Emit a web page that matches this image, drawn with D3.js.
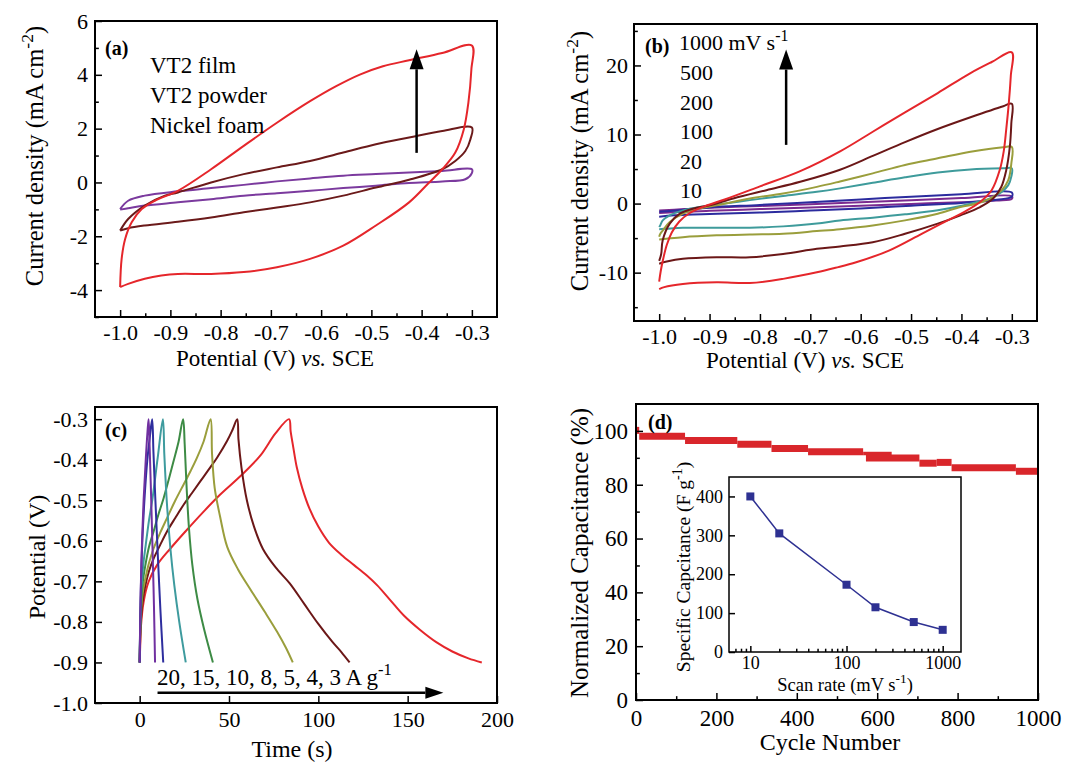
<!DOCTYPE html>
<html>
<head>
<meta charset="utf-8">
<script src="https://cdn.jsdelivr.net/npm/d3@7"></script>
<style>
  body { margin: 0; background: #fff; }
  text { font-family: "Liberation Serif", "Times New Roman", serif; fill: #000; }
</style>
</head>
<body>
<div id="chart"></div>
<script>
// ---------- données ----------

// (a) voltammétrie cyclique, trois électrodes : E (V) et j (mA cm-2), boucle fermée
const filmE = [-1.0,-0.997,-0.99,-0.977,-0.957,-0.931,-0.885,-0.819,-0.754,-0.688,-0.622,-0.57,-0.523,-0.477,-0.425,-0.359,-0.3,
               -0.301,-0.307,-0.316,-0.333,-0.359,-0.385,-0.425,-0.491,-0.556,-0.622,-0.688,-0.754,-0.819,-0.885,-0.918,-0.951,-0.984,-1.0];
const filmJ = [-3.89,-2.84,-2.10,-1.48,-0.99,-0.68,-0.31,0.49,1.36,2.22,3.02,3.58,4.01,4.32,4.54,4.81,5.09,
               4.20,2.96,1.98,1.11,0.49,0.0,-0.74,-1.60,-2.35,-2.84,-3.15,-3.33,-3.40,-3.40,-3.46,-3.58,-3.77,-3.89];
const powderE = [-1.0,-0.984,-0.951,-0.911,-0.885,-0.819,-0.754,-0.688,-0.622,-0.556,-0.491,-0.425,-0.359,-0.3,
                 -0.303,-0.313,-0.333,-0.359,-0.425,-0.491,-0.556,-0.622,-0.688,-0.754,-0.819,-0.885,-0.951,-0.984,-1.0];
const powderJ = [-1.79,-1.36,-0.86,-0.49,-0.37,0.0,0.31,0.56,0.80,1.11,1.42,1.67,1.91,2.04,
                 1.60,1.17,0.80,0.49,0.10,-0.19,-0.49,-0.74,-0.93,-1.11,-1.30,-1.46,-1.60,-1.70,-1.79];
const foamE = [-1.0,-0.984,-0.951,-0.885,-0.819,-0.754,-0.688,-0.622,-0.556,-0.491,-0.425,-0.359,-0.3,
               -0.3,-0.313,-0.359,-0.425,-0.491,-0.556,-0.622,-0.688,-0.754,-0.819,-0.885,-0.951,-0.984,-1.0];
const foamJ = [-0.99,-0.68,-0.49,-0.33,-0.21,-0.09,0.04,0.15,0.25,0.31,0.37,0.43,0.49,
               0.35,0.12,0.04,-0.02,-0.12,-0.21,-0.31,-0.40,-0.49,-0.62,-0.74,-0.86,-0.96,-1.01];
const legendA = ["VT2 film", "VT2 powder", "Nickel foam"];

// (b) CV du film à différentes vitesses de balayage
const scanLabels = ["1000", "500", "200", "100", "20", "10"];
const cv1000E = [-1.0,-0.997,-0.992,-0.985,-0.975,-0.96,-0.94,-0.91,-0.87,-0.8,-0.72,-0.64,-0.576,-0.512,-0.447,-0.382,-0.34,-0.3,
                 -0.302,-0.306,-0.311,-0.316,-0.324,-0.34,-0.363,-0.395,-0.434,-0.479,-0.544,-0.609,-0.65,-0.687,-0.754,-0.82,-0.886,-0.953,-0.99,-1.0];
const cv1000J = [-11.3,-9.8,-8.0,-6.0,-4.2,-2.6,-1.4,-0.4,0.6,2.5,4.7,7.6,10.4,13.2,16.0,18.9,20.5,21.9,
                 18.5,14.5,10.8,7.6,4.85,1.94,0.24,-1.22,-2.68,-4.37,-6.8,-8.5,-9.3,-9.95,-10.9,-11.5,-11.4,-11.65,-12.1,-12.4];
const cv500E = [-1.0,-0.996,-0.993,-0.979,-0.959,-0.933,-0.9,-0.853,-0.787,-0.72,-0.641,-0.576,-0.512,-0.447,-0.382,-0.317,-0.3,
                -0.301,-0.304,-0.311,-0.321,-0.337,-0.363,-0.402,-0.447,-0.512,-0.576,-0.641,-0.687,-0.754,-0.82,-0.886,-0.953,-0.985,-1.0];
const cv500J = [-8.3,-7.3,-5.3,-2.9,-1.46,-0.73,-0.25,0.73,1.94,3.15,4.9,6.9,8.9,10.8,12.5,14.1,14.45,
                11.6,8.2,4.85,2.4,0.73,-0.5,-1.7,-2.9,-4.37,-5.6,-6.2,-6.55,-7.3,-7.77,-7.77,-8.0,-8.4,-8.7];
const cv200E = [-1.0,-0.998,-0.993,-0.979,-0.953,-0.92,-0.886,-0.82,-0.754,-0.687,-0.641,-0.576,-0.512,-0.447,-0.382,-0.317,-0.3,
                -0.301,-0.307,-0.32,-0.343,-0.369,-0.402,-0.447,-0.512,-0.576,-0.641,-0.687,-0.754,-0.82,-0.886,-0.953,-0.986,-1.0];
const cv200J = [-4.8,-4.4,-3.9,-2.68,-1.46,-0.73,-0.25,0.73,1.46,2.42,3.2,4.37,5.6,6.55,7.5,8.15,8.2,
                5.8,3.4,1.94,0.73,0.0,-0.5,-1.46,-2.43,-3.16,-3.7,-3.98,-4.37,-4.47,-4.6,-4.86,-5.1,-5.2];
const cv100E = [-1.0,-0.998,-0.993,-0.979,-0.953,-0.92,-0.886,-0.82,-0.754,-0.687,-0.641,-0.576,-0.512,-0.447,-0.382,-0.317,-0.3,
                -0.301,-0.307,-0.32,-0.343,-0.369,-0.402,-0.447,-0.512,-0.576,-0.641,-0.687,-0.754,-0.82,-0.886,-0.953,-0.986,-1.0];
const cv100J = [-3.4,-3.16,-2.43,-1.7,-0.98,-0.5,-0.15,0.5,1.1,1.7,2.2,3.0,3.8,4.5,4.95,5.1,5.1,
                3.9,2.67,1.7,0.73,0.24,-0.35,-0.97,-1.56,-2.04,-2.45,-2.9,-3.3,-3.5,-3.5,-3.5,-3.64,-3.7];
const cv20E = [-1.0,-0.95,-0.9,-0.8,-0.7,-0.6,-0.5,-0.4,-0.3,-0.3,-0.33,-0.4,-0.5,-0.6,-0.7,-0.8,-0.9,-0.97,-1.0];
const cv20J = [-1.2,-0.9,-0.55,-0.2,0.2,0.6,1.0,1.35,1.6,1.0,0.55,0.1,-0.3,-0.7,-1.0,-1.3,-1.5,-1.7,-1.9];
const cv10E = [-1.0,-0.95,-0.9,-0.8,-0.7,-0.6,-0.5,-0.4,-0.3,-0.3,-0.33,-0.4,-0.5,-0.6,-0.7,-0.8,-0.9,-0.97,-1.0];
const cv10J = [-1.0,-0.8,-0.6,-0.35,-0.1,0.2,0.5,0.8,1.05,0.7,0.45,0.2,-0.05,-0.3,-0.55,-0.8,-1.05,-1.25,-1.35];

// (c) charge-décharge galvanostatique : temps (s) et potentiel (V)
const gcdLabel = "20, 15, 10, 8, 5, 4, 3 A g";
const g20T = [0,0.5,1.2,2.2,3.4,4.4,5.0,5.6,6.4,7.2,8.0,8.6];
const g20V = [-0.9,-0.74,-0.62,-0.5,-0.4,-0.33,-0.3,-0.37,-0.49,-0.62,-0.76,-0.9];
const g15T = [0,0.6,1.5,2.8,4.3,5.8,7.0,7.7,8.8,10.1,11.6,13.2];
const g15V = [-0.9,-0.73,-0.6,-0.49,-0.4,-0.34,-0.3,-0.38,-0.5,-0.63,-0.77,-0.9];
const g10T = [0,0.3,0.8,2.0,3.4,5.2,7.2,10.1,13.0,13.8,15.3,17.2,19.4,22.2,25.8];
const g10V = [-0.9,-0.8,-0.73,-0.66,-0.61,-0.55,-0.495,-0.395,-0.3,-0.387,-0.511,-0.619,-0.71,-0.801,-0.9];
const g8T = [0,0.3,0.75,1.8,3.2,5.2,7.8,10.5,13.4,16.2,19,21.8,24.3,25.2,26.3,27.6,29.5,32.3,36,41];
const g8V = [-0.9,-0.82,-0.76,-0.70,-0.66,-0.615,-0.577,-0.535,-0.495,-0.45,-0.403,-0.355,-0.3,-0.362,-0.47,-0.569,-0.66,-0.743,-0.817,-0.9];
const g5T = [0,0.3,0.75,1.8,3.2,5.2,7.8,11.5,15.3,20,24.6,28.5,32.1,35.8,39.7,40.5,42,45,49,55,62,70,77,82,85.7];
const g5V = [-0.9,-0.83,-0.776,-0.725,-0.693,-0.655,-0.619,-0.58,-0.544,-0.5,-0.461,-0.428,-0.395,-0.355,-0.3,-0.385,-0.47,-0.54,-0.615,-0.67,-0.72,-0.775,-0.825,-0.865,-0.9];
const g4T = [0,0.3,0.75,1.8,3.2,5.2,7.8,11.5,15.3,20,24.6,29.3,34,38.7,43.3,48.9,52,54.6,55.3,57,60,64,69,76,84,92,100,108,113,117.5];
const g4V = [-0.9,-0.84,-0.793,-0.745,-0.71,-0.675,-0.644,-0.61,-0.577,-0.543,-0.511,-0.482,-0.453,-0.424,-0.395,-0.354,-0.326,-0.3,-0.35,-0.42,-0.5,-0.565,-0.62,-0.665,-0.705,-0.755,-0.805,-0.85,-0.875,-0.9];
const g3T = [0,0.3,0.75,2.2,5,9.7,17.2,25.6,35.8,45.1,56.3,67.5,76,83.6,84.5,86,88,91,95,100,106,113,120,127,133,140,148,157,166,175,184,191.5];
const g3V = [-0.9,-0.86,-0.809,-0.751,-0.701,-0.66,-0.619,-0.577,-0.528,-0.486,-0.441,-0.39,-0.335,-0.3,-0.33,-0.37,-0.42,-0.47,-0.52,-0.565,-0.605,-0.635,-0.66,-0.685,-0.71,-0.745,-0.785,-0.82,-0.85,-0.873,-0.89,-0.9];

// (d) rétention de capacité : paliers (cycle début, cycle fin, %)
const cycStart = [0, 8, 122, 252, 337, 428, 565, 572, 705, 748, 785, 945];
const cycEnd   = [8, 122, 252, 337, 428, 565, 636, 705, 748, 785, 945, 1000];
const capNorm  = [100.2, 98.0, 96.4, 95.0, 93.5, 92.3, 91.6, 89.9, 88.0, 88.3, 86.3, 85.0];
// encart : capacité spécifique en fonction de la vitesse de balayage
const scanRate = [10, 20, 100, 200, 500, 1000];
const specCap  = [400, 305, 173, 115, 77, 57];

// ---------- dessin ----------
const width = 1069, height = 765;
const SERIF = '"Liberation Serif", "Times New Roman", serif';

const svg = d3.select("#chart").append("svg")
    .attr("width", width)
    .attr("height", height);
svg.append("rect").attr("width", width).attr("height", height).attr("fill", "#fff");

function styleAxis(sel, fs) {
    sel.attr("font-family", SERIF).attr("font-size", fs);
    sel.select(".domain").remove();
    sel.selectAll(".tick line").attr("stroke", "#000").attr("stroke-width", 1.5);
}

function addAxes(x, y, box, o) {
    const bottom = box.top + box.h;
    svg.append("g").attr("transform", `translate(0,${bottom})`)
        .call(d3.axisBottom(x).tickValues(o.xMajor).tickFormat(o.xFmt).tickSize(-o.tl).tickPadding(o.px))
        .call(styleAxis, o.fs);
    if (o.xMinor) svg.append("g").attr("transform", `translate(0,${bottom})`)
        .call(d3.axisBottom(x).tickValues(o.xMinor).tickFormat("").tickSize(-o.tl * 0.55))
        .call(styleAxis, o.fs);
    svg.append("g").attr("transform", `translate(${box.left},0)`)
        .call(d3.axisLeft(y).tickValues(o.yMajor).tickFormat(o.yFmt).tickSize(-o.tl).tickPadding(o.py))
        .call(styleAxis, o.fs);
    if (o.yMinor) svg.append("g").attr("transform", `translate(${box.left},0)`)
        .call(d3.axisLeft(y).tickValues(o.yMinor).tickFormat("").tickSize(-o.tl * 0.55))
        .call(styleAxis, o.fs);
    svg.append("rect")
        .attr("x", box.left).attr("y", box.top).attr("width", box.w).attr("height", box.h)
        .attr("fill", "none").attr("stroke", "#000").attr("stroke-width", o.sw);
}

function drawCurve(x, y, xs, ys, color, sw) {
    const line = d3.line()
        .x(d => x(d[0])).y(d => y(d[1]))
        .curve(d3.curveCatmullRom.alpha(0.5));
    svg.append("path")
        .attr("d", line(d3.zip(xs, ys)))
        .attr("fill", "none")
        .attr("stroke", color)
        .attr("stroke-width", sw)
        .attr("stroke-linejoin", "round");
}

function drawArrow(p0, p1, headLen, headW, sw) {
    const dx = p1[0] - p0[0], dy = p1[1] - p0[1], L = Math.hypot(dx, dy);
    const ux = dx / L, uy = dy / L;
    const bx = p1[0] - ux * headLen, by = p1[1] - uy * headLen;
    svg.append("line")
        .attr("x1", p0[0]).attr("y1", p0[1]).attr("x2", bx).attr("y2", by)
        .attr("stroke", "#000").attr("stroke-width", sw);
    svg.append("path")
        .attr("d", `M${p1[0]},${p1[1]}L${bx - uy * headW / 2},${by + ux * headW / 2}L${bx + uy * headW / 2},${by - ux * headW / 2}Z`)
        .attr("fill", "#000");
}

// texte avec exposant : parts = [[texte, exposant?, italique?], ...]
function richText(xp, yp, parts, fs, anchor, rotate) {
    const t = svg.append("text")
        .attr("transform", `translate(${xp},${yp})` + (rotate ? " rotate(-90)" : ""))
        .attr("text-anchor", anchor || "start")
        .attr("font-size", fs);
    let raised = false;
    parts.forEach(p => {
        const s = t.append("tspan").text(p[0]);
        if (p[1] && !raised) { s.attr("dy", -fs * 0.42).attr("font-size", fs * 0.72); raised = true; }
        else if (!p[1] && raised) { s.attr("dy", fs * 0.42); raised = false; }
        if (p[2]) s.attr("font-style", "italic");
    });
    return t;
}

function panelLetter(xp, yp, s) {
    svg.append("text").attr("x", xp).attr("y", yp)
        .attr("font-size", 20).attr("font-weight", "bold").text(s);
}

const fmt1 = d => d.toFixed(1);
const fmt0 = d => String(d);

// ---------- (a) ----------
const boxA = {left: 95, top: 21, w: 402, h: 296};
const xA = d3.scaleLinear().domain([-1.05, -0.25]).range([boxA.left, boxA.left + boxA.w]);
const yA = d3.scaleLinear().domain([-5, 6]).range([boxA.top + boxA.h, boxA.top]);
drawCurve(xA, yA, foamE, foamJ, "#7b3a9e", 2);
drawCurve(xA, yA, powderE, powderJ, "#6b1a1a", 2);
drawCurve(xA, yA, filmE, filmJ, "#e5262b", 2);
addAxes(xA, yA, boxA, {
    xMajor: d3.range(-1.0, -0.25, 0.1), xMinor: d3.range(-0.95, -0.3, 0.1), xFmt: fmt1,
    yMajor: [-4, -2, 0, 2, 4, 6], yMinor: [-5, -3, -1, 1, 3, 5], yFmt: fmt0,
    tl: 7, px: 7, py: 7, fs: 22, sw: 2
});
panelLetter(105, 55, "(a)");
legendA.forEach((s, i) => svg.append("text").attr("x", 150).attr("y", 73 + i * 30)
    .attr("font-size", 23).text(s));
drawArrow([xA(-0.41), yA(1.1)], [xA(-0.41), yA(4.95)], 20, 14, 2.5);
richText(275, 366, [["Potential (V) "], ["vs.", false, true], [" SCE"]], 23, "middle");
richText(43, 156, [["Current density (mA cm"], ["-2", true], [")"]], 24.5, "middle", true);

// ---------- (b) ----------
const boxB = {left: 634, top: 24, w: 403, h: 297};
const xB = d3.scaleLinear().domain([-1.05, -0.25]).range([boxB.left, boxB.left + boxB.w]);
const yB = d3.scaleLinear().domain([-17, 26]).range([boxB.top + boxB.h, boxB.top]);
drawCurve(xB, yB, cv10E, cv10J, "#7b2a8f", 2);
drawCurve(xB, yB, cv20E, cv20J, "#2b2b9e", 2);
drawCurve(xB, yB, cv100E, cv100J, "#3e9b9b", 2);
drawCurve(xB, yB, cv200E, cv200J, "#9a9e3c", 2);
drawCurve(xB, yB, cv500E, cv500J, "#6b1717", 2);
drawCurve(xB, yB, cv1000E, cv1000J, "#e5262b", 2);
addAxes(xB, yB, boxB, {
    xMajor: d3.range(-1.0, -0.25, 0.1), xMinor: d3.range(-0.95, -0.3, 0.1), xFmt: fmt1,
    yMajor: [-10, 0, 10, 20], yMinor: [-15, -5, 5, 15, 25], yFmt: fmt0,
    tl: 7, px: 7, py: 6, fs: 22, sw: 2
});
panelLetter(645, 53, "(b)");
richText(679, 50, [[scanLabels[0] + " mV s"], ["-1", true]], 22, "start");
scanLabels.slice(1).forEach((s, i) => svg.append("text").attr("x", 680).attr("y", 80 + i * 29.5)
    .attr("font-size", 22).text(s));
drawArrow([xB(-0.748), yB(8.5)], [xB(-0.748), yB(22.3)], 20, 14, 2.5);
richText(805, 368, [["Potential (V) "], ["vs.", false, true], [" SCE"]], 23, "middle");
richText(588, 161, [["Current density (mA cm"], ["-2", true], [")"]], 24.5, "middle", true);

// ---------- (c) ----------
const boxC = {left: 95, top: 407, w: 402, h: 296};
const xC = d3.scaleLinear().domain([-25, 200]).range([boxC.left, boxC.left + boxC.w]);
const yC = d3.scaleLinear().domain([-1.0, -0.27]).range([boxC.top + boxC.h, boxC.top]);
const gcdT = [g3T, g4T, g5T, g8T, g10T, g15T, g20T];
const gcdV = [g3V, g4V, g5V, g8V, g10V, g15V, g20V];
const gcdColors = ["#e5262b", "#6b1717", "#9a9e3c", "#3d8b45", "#3e9b9e", "#2e2e9e", "#7030a0"];
gcdT.forEach((t, i) => drawCurve(xC, yC, t, gcdV[i], gcdColors[i], 2));
addAxes(xC, yC, boxC, {
    xMajor: [0, 50, 100, 150, 200], xFmt: fmt0,
    yMajor: d3.range(-1.0, -0.25, 0.1), yFmt: fmt1,
    tl: 7, px: 8, py: 7, fs: 22, sw: 2
});
panelLetter(105, 437, "(c)");
richText(157, 685, [[gcdLabel], ["-1", true]], 23, "start");
drawArrow([xC(10), yC(-0.975)], [xC(170), yC(-0.975)], 18, 12, 2.5);
richText(292, 757, [["Time (s)"]], 24, "middle");
richText(45, 557, [["Potential (V)"]], 24, "middle", true);

// ---------- (d) ----------
const boxD = {left: 636, top: 404, w: 402, h: 296};
const xD = d3.scaleLinear().domain([0, 1000]).range([boxD.left, boxD.left + boxD.w]);
const yD = d3.scaleLinear().domain([0, 110]).range([boxD.top + boxD.h, boxD.top]);
const plateau = d3.line().x(d => xD(d[0])).y(d => yD(d[1]));
capNorm.forEach((v, i) => svg.append("path")
    .attr("d", plateau([[cycStart[i], v], [cycEnd[i], v]]))
    .attr("stroke", "#d9262b")
    .attr("stroke-width", i === 6 ? 3.5 : 7)
    .attr("fill", "none"));
addAxes(xD, yD, boxD, {
    xMajor: [0, 200, 400, 600, 800, 1000], xMinor: [100, 300, 500, 700, 900], xFmt: fmt0,
    yMajor: [0, 20, 40, 60, 80, 100], yMinor: [10, 30, 50, 70, 90], yFmt: fmt0,
    tl: 7, px: 10, py: 8, fs: 23, sw: 2
});
panelLetter(648, 429, "(d)");
richText(830, 750, [["Cycle Number"]], 24, "middle");
richText(588, 553, [["Normalized Capacitance (%)"]], 25, "middle", true);

// encart
const boxI = {left: 729, top: 477, w: 232, h: 175};
svg.append("rect").attr("x", boxI.left).attr("y", boxI.top).attr("width", boxI.w).attr("height", boxI.h)
    .attr("fill", "#fff");
const xI = d3.scaleLog().domain([6, 1550]).range([boxI.left, boxI.left + boxI.w]);
const yI = d3.scaleLinear().domain([0, 450]).range([boxI.top + boxI.h, boxI.top]);
const logMinor = [7, 8, 9, 20, 30, 40, 50, 60, 70, 80, 90, 200, 300, 400, 500, 600, 700, 800, 900];
addAxes(xI, yI, boxI, {
    xMajor: [10, 100, 1000], xMinor: logMinor, xFmt: fmt0,
    yMajor: [0, 100, 200, 300, 400], yFmt: fmt0,
    tl: 6, px: 4, py: 6, fs: 18, sw: 1.5
});
svg.append("path")
    .attr("d", d3.line().x(d => xI(d[0])).y(d => yI(d[1]))(d3.zip(scanRate, specCap)))
    .attr("fill", "none").attr("stroke", "#2e3192").attr("stroke-width", 1.5);
svg.selectAll(".sq").data(d3.zip(scanRate, specCap)).enter().append("rect")
    .attr("x", d => xI(d[0]) - 4).attr("y", d => yI(d[1]) - 4)
    .attr("width", 8).attr("height", 8)
    .attr("fill", "#2e3192");
richText(845, 691, [["Scan rate (mV s"], ["-1", true], [")"]], 18.5, "middle");
richText(690, 567, [["Specific Capcitance (F g"], ["-1", true], [")"]], 19.5, "middle", true);
</script>
</body>
</html>
